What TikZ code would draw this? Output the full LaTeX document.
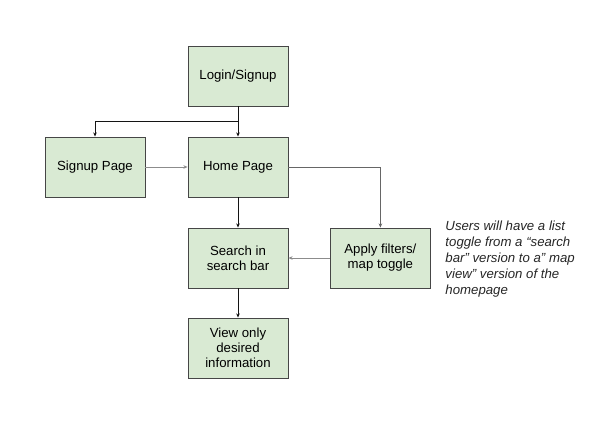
\documentclass[tikz,border=0pt]{standalone}
\usepackage{fontspec}
\setmainfont{Liberation Sans}
\usetikzlibrary{arrows.meta, positioning, shadows}
\definecolor{BX}{RGB}{217,234,211}
\definecolor{BD}{RGB}{70,70,70}
\definecolor{LK}{RGB}{20,20,20}
\definecolor{LG}{RGB}{140,140,140}

\begin{document}
\begin{tikzpicture}[
  box/.style={draw=BD, fill=BX, line width=0.6pt, minimum width=2.5cm,
              minimum height=1.5cm, align=center, inner sep=2pt,
              font=\fontsize{9.4}{10.7}\selectfont,
              drop shadow={shadow xshift=0.6pt, shadow yshift=-0.9pt, opacity=0.3}},
  arr/.style={-{Stealth[length=3pt,width=2.6pt]}, line width=0.6pt, draw=LK},
  note/.style={font=\fontsize{9.4}{11.4}\selectfont\itshape, align=left,
               inner sep=0pt, anchor=north west, text=black!85}
]
\useasboundingbox (0,0) rectangle (15,10.675);
\node[box] (login)  at (5.95,8.775) {Login/Signup};
\node[box] (signup) at (2.375,6.5)  {Signup Page};
\node[box] (home)   at (5.95,6.5)   {Home Page};
\node[box] (search) at (5.95,4.225) {Search in\\search bar};
\node[box] (apply)  at (9.51,4.225) {Apply filters/\\map toggle};
\node[box] (view)   at (5.95,1.975) {View only\\desired\\information};
\coordinate (split) at (5.95,7.65);

\draw[arr] (login)--(home);
\draw[arr] (split)-|(signup);
\draw[arr, LG] (signup)--(home);
\draw[arr, draw=black!60] (home)-|(apply);
\draw[arr] (home)--(search);
\draw[arr, LG] (apply)--(search);
\draw[arr] (search)--(view);

\node[note] (hint) at (11.13,5.16) {Users will have a list\\toggle from a “search\\bar” version to a” map\\view” version of the\\homepage};
\end{tikzpicture}
\end{document}
